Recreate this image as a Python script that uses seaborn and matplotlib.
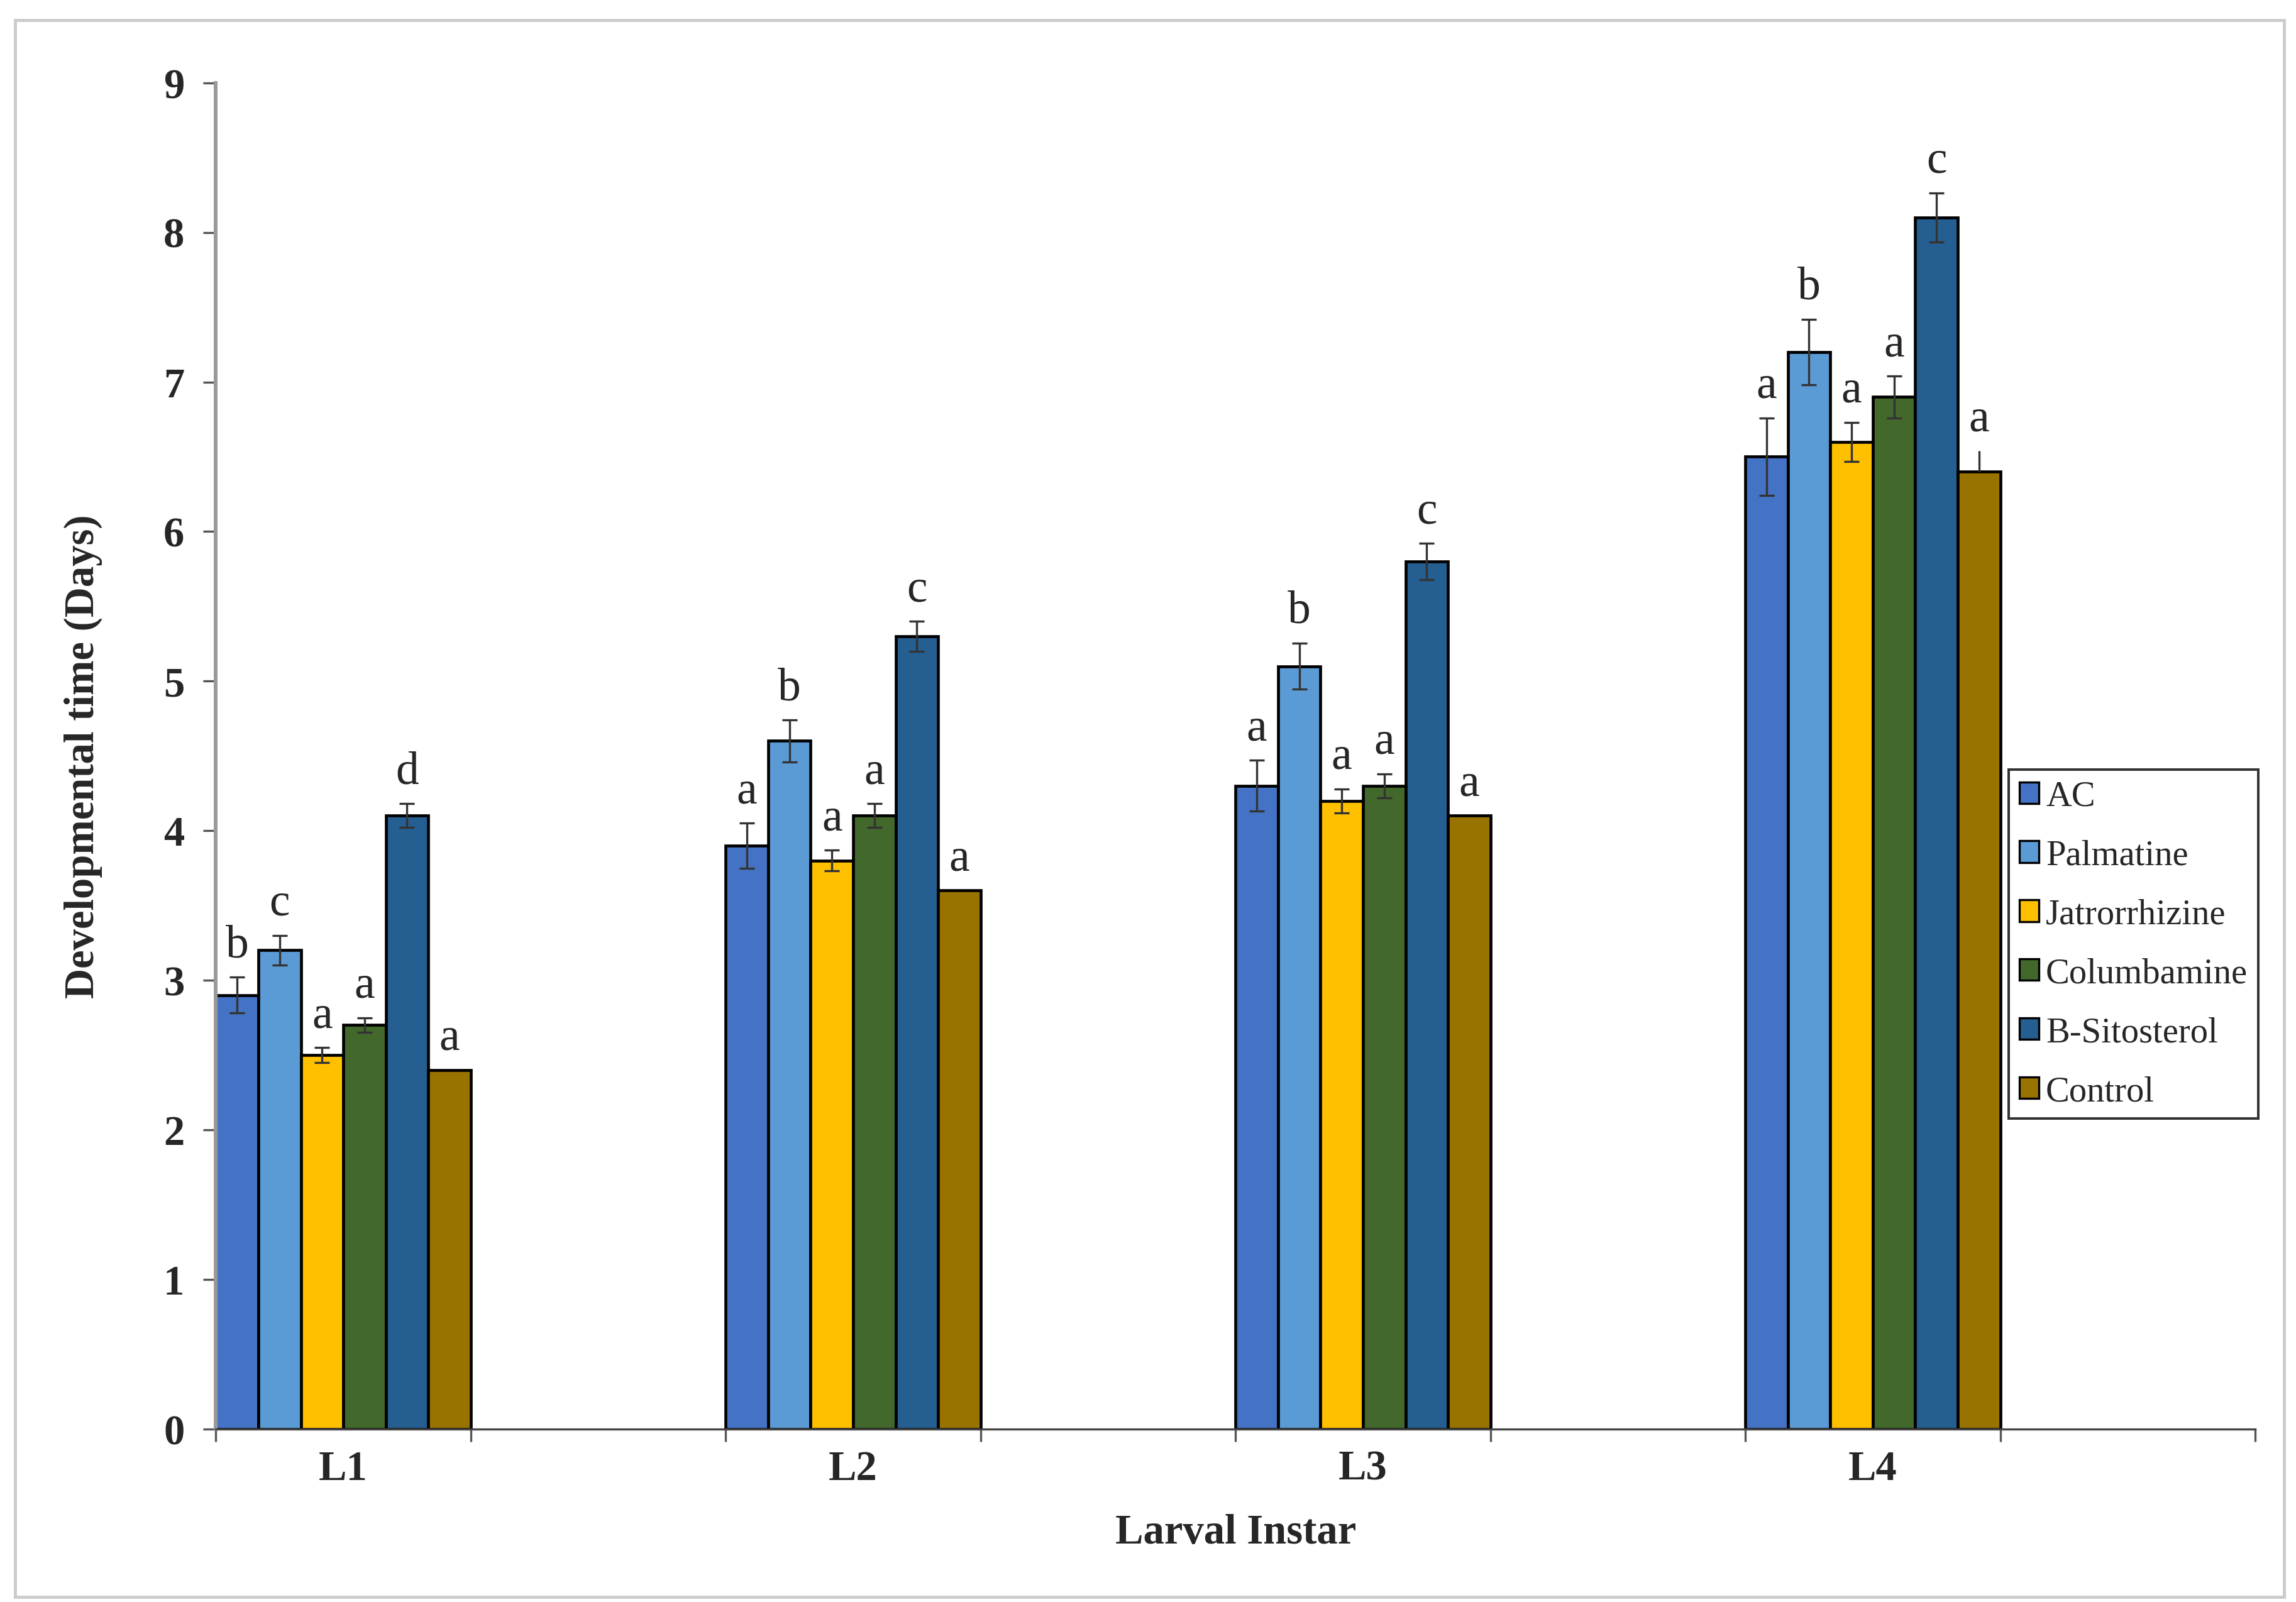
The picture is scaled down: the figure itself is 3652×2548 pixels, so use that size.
import pandas as pd
import matplotlib.pyplot as plt
import seaborn as sns
from matplotlib.patches import Rectangle, Patch

# Data
instars = ['L1', 'L2', 'L3', 'L4']
treatments = ['AC', 'Palmatine', 'Jatrorrhizine', 'Columbamine', 'B-Sitosterol', 'Control']

ac = [2.9, 3.9, 4.3, 6.5]
palmatine = [3.2, 4.6, 5.1, 7.2]
jatrorrhizine = [2.5, 3.8, 4.2, 6.6]
columbamine = [2.7, 4.1, 4.3, 6.9]
sitosterol = [4.1, 5.3, 5.8, 8.1]
control = [2.4, 3.6, 4.1, 6.4]

ac_err = [0.12, 0.15, 0.17, 0.26]
palmatine_err = [0.1, 0.14, 0.155, 0.22]
jatrorrhizine_err = [0.05, 0.07, 0.08, 0.13]
columbamine_err = [0.05, 0.08, 0.08, 0.14]
sitosterol_err = [0.08, 0.1, 0.12, 0.165]
control_err = [0, 0, 0, 0.14]

ac_sig = ['b', 'a', 'a', 'a']
palmatine_sig = ['c', 'b', 'b', 'b']
jatrorrhizine_sig = ['a', 'a', 'a', 'a']
columbamine_sig = ['a', 'a', 'a', 'a']
sitosterol_sig = ['d', 'c', 'c', 'c']
control_sig = ['a', 'a', 'a', 'a']

colors = ['#4472C4', '#5B9BD5', '#FFC000', '#43682B', '#255E91', '#997300']

values = [ac, palmatine, jatrorrhizine, columbamine, sitosterol, control]
errors = [ac_err, palmatine_err, jatrorrhizine_err, columbamine_err, sitosterol_err, control_err]
letters = [ac_sig, palmatine_sig, jatrorrhizine_sig, columbamine_sig, sitosterol_sig, control_sig]

rows = []
for t, vals in zip(treatments, values):
    for inst, v in zip(instars, vals):
        rows.append({'Instar': inst, 'Treatment': t, 'Days': v})
data = pd.DataFrame(rows)

sns.set_style('white')
plt.rcParams['font.family'] = ['Liberation Serif', 'DejaVu Serif']

fig = plt.figure(figsize=(15.22, 10.62), dpi=240)
ax = fig.add_axes([0.094, 0.108, 0.888, 0.840])

sns.barplot(data=data, x='Instar', y='Days', hue='Treatment', hue_order=treatments,
            palette=colors, width=0.5, edgecolor='black', linewidth=1.4,
            saturation=1, errorbar=None, ax=ax, legend=False)

# error bars and significance letters
bar_conts = list(ax.containers)
for i, cont in enumerate(bar_conts):
    for j, bar in enumerate(cont.patches):
        xc = bar.get_x() + bar.get_width() / 2
        h = values[i][j]
        e = errors[i][j]
        if i == 5:
            if e > 0:
                ax.errorbar(xc, h, yerr=[[0], [e]], fmt='none', ecolor='#333333',
                            elinewidth=1.0, capsize=0)
        else:
            ax.errorbar(xc, h, yerr=e, fmt='none', ecolor='#333333',
                        elinewidth=1.0, capsize=3.5, capthick=1.0)
        ax.text(xc, h + e + 0.07, letters[i][j], ha='center', va='bottom', fontsize=22)

ax.set_xlim(-0.25, 3.75)
ax.set_ylim(0, 9)
ax.set_yticks(range(10))
ax.set_xticks([-0.25, 0.25, 0.75, 1.25, 1.75, 2.25, 2.75, 3.25, 3.75])
ax.set_xticklabels([])
ax.set_xticks([0, 1, 2, 3], minor=True)
ax.set_xticklabels(instars, minor=True, fontsize=20, fontweight='bold')
ax.tick_params(axis='x', which='major', direction='out', length=6, width=1, color='#555555', bottom=True)
ax.tick_params(axis='x', which='minor', length=0, pad=10, bottom=True)
ax.tick_params(axis='y', direction='out', length=6, width=1, color='#555555', left=True, pad=9)
for lbl in ax.get_yticklabels():
    lbl.set_fontsize(20)
    lbl.set_fontweight('bold')

sns.despine(ax=ax)
ax.spines['left'].set_color('#999999')
ax.spines['left'].set_linewidth(1.8)
ax.spines['bottom'].set_color('#444444')
ax.spines['bottom'].set_linewidth(1.0)

ax.set_xlabel('Larval Instar', fontsize=20, fontweight='bold', labelpad=12)
ax.set_ylabel('Developmental time (Days)', fontsize=20, fontweight='bold', labelpad=29)

handles = [Patch(facecolor=c, edgecolor='black', linewidth=1.0) for c in colors]
leg = ax.legend(handles, treatments, loc='upper left', bbox_to_anchor=(0.879, 0.49),
                borderaxespad=0, fontsize=17, frameon=True, fancybox=False,
                handlelength=0.55, handleheight=0.55, handletextpad=0.2,
                labelspacing=0.74, borderpad=0.3)
leg.get_frame().set_edgecolor('black')
leg.get_frame().set_linewidth(1.2)

# light frame around the whole picture
fig.patches.append(Rectangle((0.0065, 0.003), 0.988, 0.984, transform=fig.transFigure,
                             fill=False, edgecolor='#cccccc', linewidth=1.5))

fig.savefig('out.png', dpi=240)
